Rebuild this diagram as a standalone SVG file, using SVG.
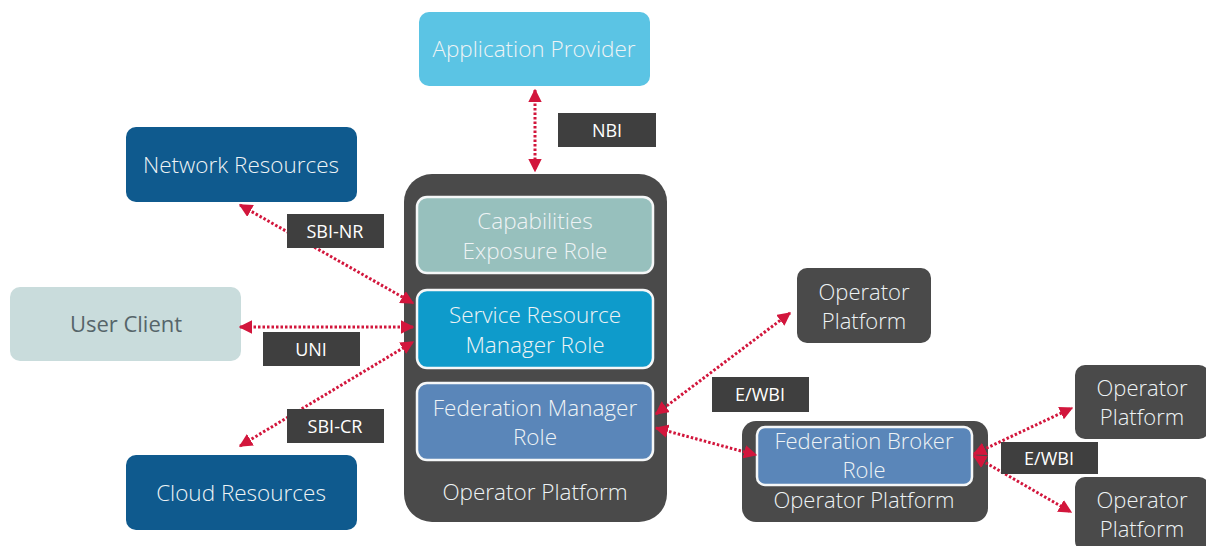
<svg xmlns="http://www.w3.org/2000/svg" width="1206" height="546" viewBox="0 0 1206 546">
<style>
.t{font-family:"Open Sans",Lato,"Liberation Sans",sans-serif;font-weight:300;text-anchor:middle}
.w{fill:#eef3f5;font-size:22.5px}
.s{font-size:22px}
.lbl rect{fill:#3f3f3f}
.lbl text{font-family:"Open Sans","Liberation Sans",sans-serif;fill:#ffffff;font-size:18px;text-anchor:middle}
.c{stroke:#d2163c;stroke-width:3;stroke-dasharray:2.5 2;fill:none;marker-start:url(#a);marker-end:url(#a)}
.role{stroke:#f5f7f8;stroke-width:2.5}
</style>
<defs>
<marker id="a" viewBox="0 0 10 10" refX="9" refY="5" markerWidth="4.5" markerHeight="4.5" orient="auto-start-reverse" markerUnits="strokeWidth">
<path d="M0,0 L10,5 L0,10 z" fill="#d2163c"/>
</marker>
</defs>
<rect width="1206" height="546" fill="#ffffff"/>

<g id="app-provider"><rect x="419" y="12" width="231" height="74" rx="10" fill="#5bc4e4"/><text class="t w" x="534" y="57">Application Provider</text></g>
<g id="network-resources"><rect x="126" y="127" width="231" height="75" rx="10" fill="#0f5a8e"/><text class="t w" x="241" y="173">Network Resources</text></g>
<g id="user-client"><rect x="10" y="287" width="231" height="74" rx="10" fill="#c9dcdc"/><text class="t" x="126" y="332" style="fill:#56656a;font-size:22px;font-weight:400">User Client</text></g>
<g id="cloud-resources"><rect x="126" y="455" width="231" height="75" rx="10" fill="#0f5a8e"/><text class="t w" x="241" y="501">Cloud Resources</text></g>

<g id="operator-platform-main">
<rect x="404" y="174" width="263" height="348" rx="28" fill="#4a4a4a"/>
<rect class="role" x="417" y="197" width="236" height="76" rx="10" fill="#97c0bd"/>
<text class="t w" x="535" y="229">Capabilities</text><text class="t w" x="535" y="259">Exposure Role</text>
<rect class="role" x="417" y="290" width="236" height="78" rx="10" fill="#0e9bcb"/>
<text class="t w" x="535" y="323">Service Resource</text><text class="t w" x="535" y="353">Manager Role</text>
<rect class="role" x="417" y="383" width="236" height="77" rx="10" fill="#5a86b9"/>
<text class="t w" x="535" y="416">Federation Manager</text><text class="t w" x="535" y="445">Role</text>
<text class="t w" x="535" y="500">Operator Platform</text>
</g>

<g id="operator-platform-top"><rect x="797" y="268" width="134" height="75" rx="10" fill="#4a4a4a"/><text class="t w s" x="864" y="300">Operator</text><text class="t w s" x="864" y="329">Platform</text></g>

<g id="operator-platform-broker">
<rect x="742" y="421" width="246" height="101" rx="14" fill="#4a4a4a"/>
<rect class="role" x="757" y="427" width="215" height="58" rx="8" fill="#5a86b9"/>
<text class="t w s" x="864" y="449">Federation Broker</text><text class="t w s" x="864" y="478">Role</text>
<text class="t w s" x="864" y="508">Operator Platform</text>
</g>

<g id="operator-platform-r1"><rect x="1075" y="365" width="134" height="74" rx="10" fill="#4a4a4a"/><text class="t w s" x="1142" y="396">Operator</text><text class="t w s" x="1142" y="425">Platform</text></g>
<g id="operator-platform-r2"><rect x="1075" y="477" width="134" height="74" rx="10" fill="#4a4a4a"/><text class="t w s" x="1142" y="508">Operator</text><text class="t w s" x="1142" y="537">Platform</text></g>

<g id="connectors">
<line class="c" x1="535" y1="90" x2="535" y2="171"/>
<line class="c" x1="240" y1="205" x2="413" y2="303"/>
<line class="c" x1="240" y1="327" x2="413" y2="327"/>
<line class="c" x1="240" y1="446" x2="413" y2="342"/>
<line class="c" x1="656" y1="414" x2="790" y2="313"/>
<line class="c" x1="656" y1="428" x2="756" y2="455"/>
<line class="c" x1="974" y1="454" x2="1072" y2="408"/>
<line class="c" x1="974" y1="456" x2="1071" y2="512"/>
</g>

<g id="labels" class="lbl">
<rect x="558" y="113" width="98" height="34"/><text x="607" y="137">NBI</text>
<rect x="287" y="214" width="97" height="34"/><text x="335" y="238">SBI-NR</text>
<rect x="263" y="332" width="97" height="34"/><text x="311" y="356">UNI</text>
<rect x="287" y="409" width="97" height="34"/><text x="335" y="433">SBI-CR</text>
<rect x="712" y="377" width="97" height="35"/><text x="760" y="401">E/WBI</text>
<rect x="1001" y="442" width="97" height="32"/><text x="1049" y="465">E/WBI</text>
</g>
</svg>
